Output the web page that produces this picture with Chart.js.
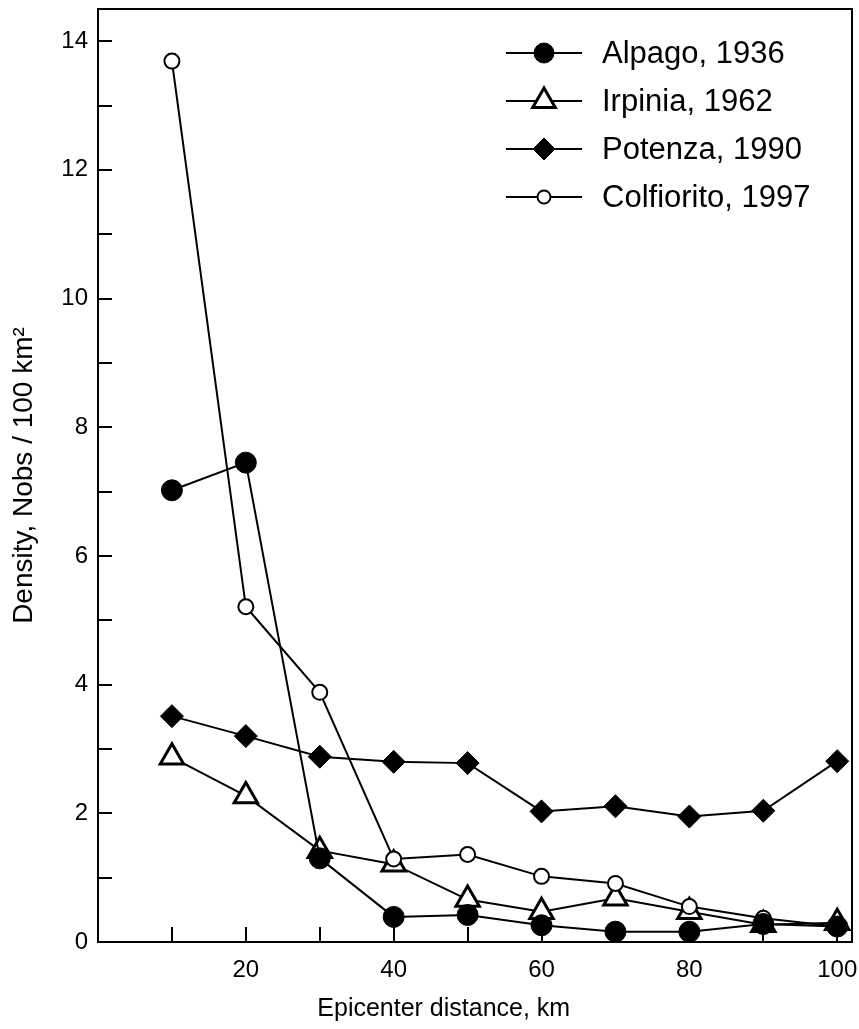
<!DOCTYPE html>
<html><head><meta charset="utf-8">
<script src="https://cdn.jsdelivr.net/npm/chart.js@4/dist/chart.umd.min.js"></script>
<style>html,body{margin:0;padding:0;background:#fff;}#wrap{width:859px;height:1029px;}</style>
</head><body><div id="wrap"><canvas id="c" width="859" height="1029"></canvas></div>
<script>
const distances = [10, 20, 30, 40, 50, 60, 70, 80, 90, 100];
const alpago = [7.02, 7.45, 1.30, 0.39, 0.42, 0.26, 0.16, 0.16, 0.28, 0.24];
const irpinia = [2.87, 2.27, 1.42, 1.21, 0.66, 0.47, 0.68, 0.47, 0.27, 0.30];
const potenza = [3.51, 3.20, 2.88, 2.80, 2.78, 2.03, 2.11, 1.95, 2.04, 2.81];
const colfiorito = [13.69, 5.21, 3.88, 1.29, 1.36, 1.02, 0.91, 0.55, 0.37, 0.24];
const seriesNames = ['Alpago, 1936', 'Irpinia, 1962', 'Potenza, 1990', 'Colfiorito, 1997'];
const xLabelTicks = [20, 40, 60, 80, 100];
const xMarkTicks = [10, 20, 30, 40, 50, 60, 70, 80, 90, 100];
const yLabelTicks = [0, 2, 4, 6, 8, 10, 12, 14];
const yMarkTicks = [1, 2, 3, 4, 5, 6, 7, 8, 9, 10, 11, 12, 13, 14];
const xTitle = 'Epicenter distance, km';
const yTitle = 'Density, Nobs / 100 km\u00B2';

const FONT = "'Liberation Sans', Arial, Helvetica, sans-serif";
const pts = arr => distances.map((x, i) => ({x: x, y: arr[i]}));

const styles = [
  {pointStyle: 'circle', pointRadius: 10.5, pointBackgroundColor: '#000', pointBorderWidth: 1, order: 1, legendRadius: 10},
  {pointStyle: 'triangle', pointRadius: 13.5, pointBackgroundColor: '#fff', pointBorderWidth: 3, order: 4, legendRadius: 13},
  {pointStyle: 'rectRot', pointRadius: 11.5, pointBackgroundColor: '#000', pointBorderWidth: 1, order: 3, legendRadius: 11},
  {pointStyle: 'circle', pointRadius: 7.5, pointBackgroundColor: '#fff', pointBorderWidth: 2, order: 2, legendRadius: 6.5}
];
const seriesData = [alpago, irpinia, potenza, colfiorito];

const datasets = seriesData.map((d, i) => Object.assign({
  label: seriesNames[i],
  data: pts(d),
  borderColor: '#000',
  borderWidth: 2,
  pointBorderColor: '#000',
  pointHoverRadius: styles[i].pointRadius,
  tension: 0,
  fill: false,
  clip: false
}, styles[i]));

const framePlugin = {
  id: 'frame',
  beforeDatasetsDraw(chart) {
    const {ctx, chartArea: a, scales: {x, y}} = chart;
    ctx.save();
    ctx.strokeStyle = '#000';
    ctx.lineWidth = 2;
    ctx.beginPath();
    yMarkTicks.forEach(v => {
      const py = Math.round(y.getPixelForValue(v));
      ctx.moveTo(a.left, py); ctx.lineTo(a.left + 14, py);
    });
    xMarkTicks.forEach(v => {
      const px = Math.round(x.getPixelForValue(v));
      ctx.moveTo(px, a.bottom); ctx.lineTo(px, a.bottom - 15);
    });
    ctx.stroke();
    ctx.strokeRect(a.left, a.top, a.right - a.left, a.bottom - a.top);
    ctx.restore();
  }
};

const legendPlugin = {
  id: 'customLegend',
  afterDraw(chart) {
    const ctx = chart.ctx;
    const x0 = 506, x1 = 582, xm = 544, xt = 602, yStart = 53, step = 48;
    ctx.save();
    chart.data.datasets.forEach((ds, i) => {
      const yy = yStart + i * step;
      ctx.strokeStyle = '#000';
      ctx.lineWidth = 2;
      ctx.beginPath(); ctx.moveTo(x0, yy); ctx.lineTo(x1, yy); ctx.stroke();
      ctx.fillStyle = ds.pointBackgroundColor;
      ctx.strokeStyle = '#000';
      ctx.lineWidth = ds.pointBorderWidth;
      Chart.helpers.drawPoint(ctx, {pointStyle: ds.pointStyle, radius: ds.legendRadius, rotation: 0, borderWidth: ds.pointBorderWidth}, xm, yy);
      ctx.fillStyle = '#000';
      ctx.font = '31px ' + FONT;
      ctx.textAlign = 'left';
      ctx.textBaseline = 'middle';
      ctx.fillText(ds.label, xt, yy + 1);
    });
    ctx.restore();
  }
};

const noPad = s => {
  s.paddingTop = 0; s.paddingBottom = 0; s.paddingLeft = 0; s.paddingRight = 0;
};

new Chart(document.getElementById('c'), {
  type: 'line',
  data: {datasets: datasets},
  options: {
    responsive: false,
    animation: false,
    devicePixelRatio: 1,
    layout: {autoPadding: false, padding: {top: 9, right: 7, left: 0, bottom: 0}},
    plugins: {legend: {display: false}, tooltip: {enabled: false}},
    scales: {
      x: {
        type: 'linear', min: 0, max: 102,
        grid: {display: false, drawTicks: false},
        border: {display: false},
        afterBuildTicks: s => { s.ticks = xLabelTicks.map(v => ({value: v})); },
        afterFit: s => { s.height = 87; noPad(s); },
        ticks: {color: '#000', font: {family: FONT, size: 24}, padding: 14, maxRotation: 0, autoSkip: false},
        title: {display: true, text: xTitle + '\u00A0'.repeat(9), color: '#000', font: {family: FONT, size: 25}, padding: {top: 0, bottom: 5}}
      },
      y: {
        type: 'linear', min: 0, max: 14.5,
        grid: {display: false, drawTicks: false},
        border: {display: false},
        afterBuildTicks: s => { s.ticks = yLabelTicks.map(v => ({value: v})); },
        afterFit: s => { s.width = 98; noPad(s); },
        ticks: {color: '#000', font: {family: FONT, size: 24}, padding: 10, autoSkip: false},
        title: {display: true, text: yTitle, color: '#000', font: {family: FONT, size: 28}, padding: {top: 7, bottom: 0}}
      }
    }
  },
  plugins: [framePlugin, legendPlugin]
});
</script></body></html>
